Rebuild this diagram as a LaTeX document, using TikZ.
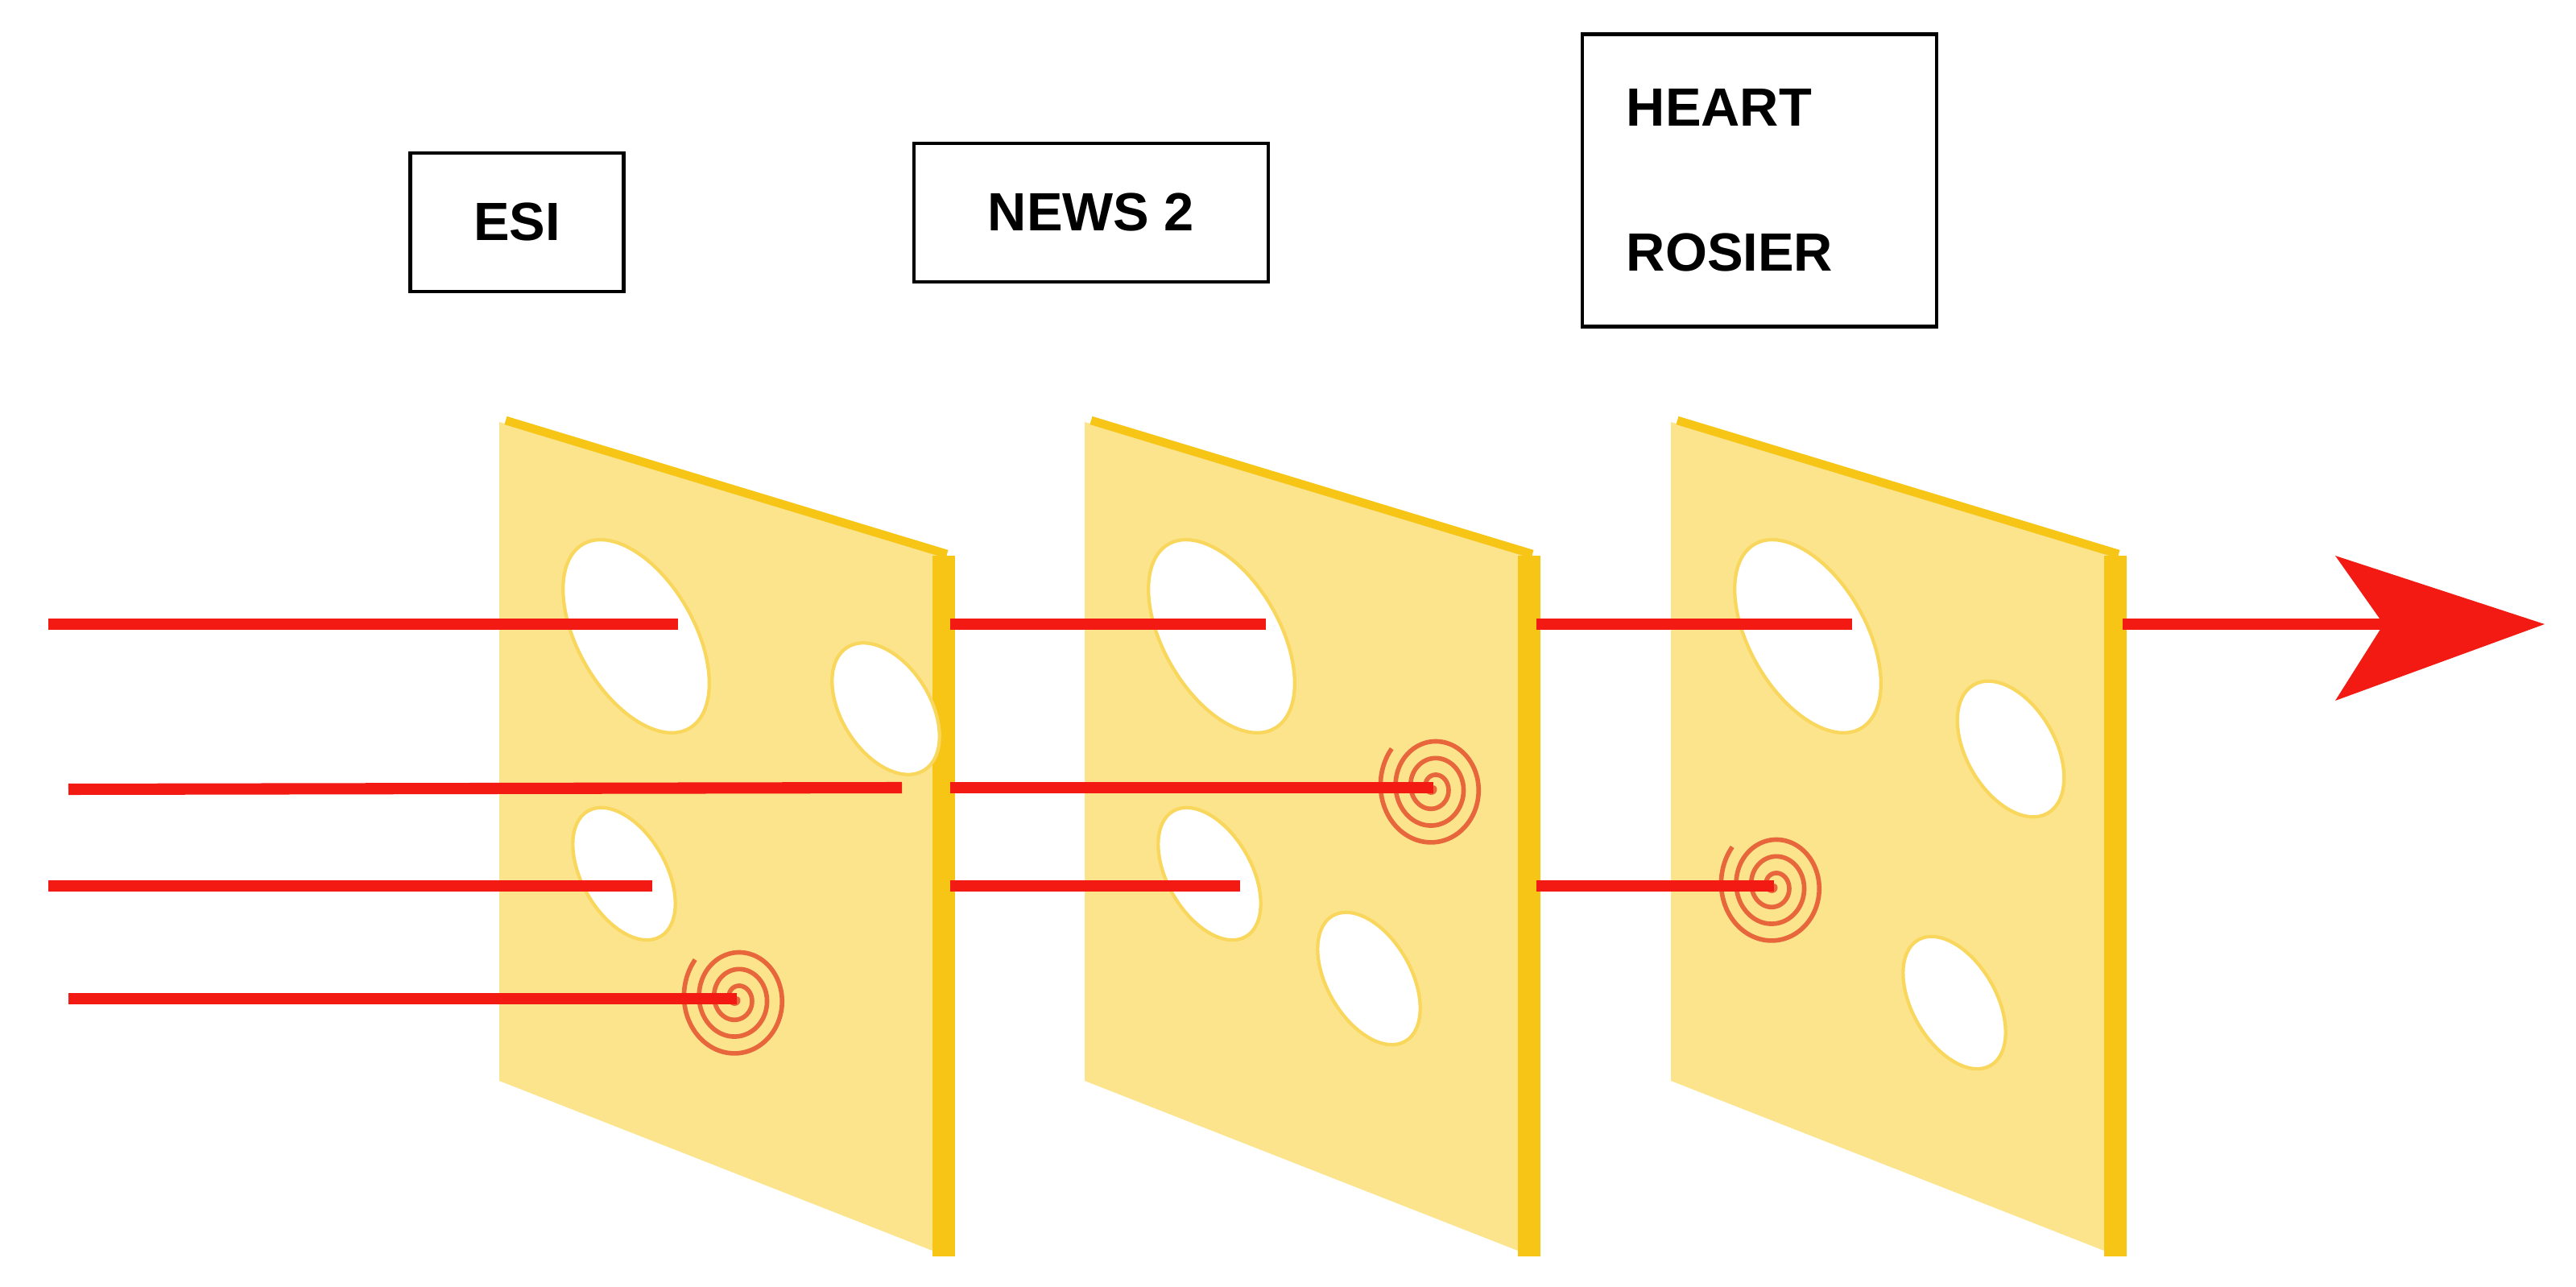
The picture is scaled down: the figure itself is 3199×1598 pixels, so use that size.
\documentclass[tikz,border=0pt]{standalone}
\usepackage{fontspec}
\setmainfont{Liberation Sans}
\begin{document}
\begin{tikzpicture}[x=0.01cm,y=-0.01cm,
  cheese/.style={fill=cheeseF},
  hole/.style={fill=white,draw=cheeseE!70,line width=1.2pt},
  ray/.style={draw=rayR,line width=4pt},
  lbl/.style={draw=black,line width=1.3pt,font=\fontsize{19}{30}\selectfont\bfseries,inner sep=0pt,align=left}]
\definecolor{cheeseF}{HTML}{FCE48C}
\definecolor{cheeseE}{HTML}{F6C516}
\definecolor{rayR}{HTML}{F21A12}
\definecolor{spir}{HTML}{E8663C}
\useasboundingbox (0,0) rectangle (3199,1598);
% labels
\node[lbl,minimum width=2.65cm,minimum height=1.72cm] (esi) at (642,276) {ESI};
\node[lbl,minimum width=4.4cm,minimum height=1.72cm] (news) at (1355,264) {NEWS 2};
\node[lbl,minimum width=4.4cm,minimum height=3.63cm,text width=3.3cm] (hr) at (2185,224) {HEART\\[0.75cm]ROSIER};
% slices
\foreach \dx/\n in {0/a,727/b,1455/c}{
  \begin{scope}[xshift=\dx*0.01cm]
  \fill[cheese] (620,524) -- (1176,688) -- (1176,1560) -- (620,1342) -- cycle;
  \draw[cheeseE,line width=3pt] (628,522) -- (1176,688);
  \draw[cheeseE,line width=8pt] (1172,690) -- (1172,1560);
  \end{scope}
}
% holes slice 1
\draw[hole,rotate around={30:(790,790)}] (790,790) ellipse [x radius=72,y radius=132];
\draw[hole,rotate around={32:(1100,880)}] (1100,880) ellipse [x radius=55,y radius=90];
\draw[hole,rotate around={30:(775,1085)}] (775,1085) ellipse [x radius=52,y radius=90];
% holes slice 2
\draw[hole,rotate around={30:(1517,790)}] (1517,790) ellipse [x radius=72,y radius=132];
\draw[hole,rotate around={30:(1502,1085)}] (1502,1085) ellipse [x radius=52,y radius=90];
\draw[hole,rotate around={30:(1700,1215)}] (1700,1215) ellipse [x radius=52,y radius=90];
% holes slice 3
\draw[hole,rotate around={30:(2245,790)}] (2245,790) ellipse [x radius=72,y radius=132];
\draw[hole,rotate around={30:(2497,930)}] (2497,930) ellipse [x radius=55,y radius=92];
\draw[hole,rotate around={30:(2427,1245)}] (2427,1245) ellipse [x radius=52,y radius=90];
% spirals
\foreach \cx/\cy/\nm in {915/1240/s1,1780/978/s2,2203/1100/s3}{
  \coordinate (\nm) at (\cx,\cy);
  \draw[spir,line width=1.6pt] plot[domain=0:1300,samples=220,smooth]
    ({\cx+0.052*\x*cos(\x)},{\cy+0.058*\x*sin(\x)});
}
% coordinates of ray ends
\coordinate (r1s) at (60,775);   \coordinate (r1e) at (842,775);
\coordinate (r1b) at (1180,775); \coordinate (r1f) at (1572,775);
\coordinate (r1c) at (1908,775); \coordinate (r1g) at (2300,775);
\coordinate (r1d) at (2636,775); \coordinate (tip) at (3160,775);
\coordinate (r2s) at (85,980);   \coordinate (r2e) at (1120,978);
\coordinate (r2b) at (1180,978);
\coordinate (r3s) at (60,1100);  \coordinate (r3e) at (810,1100);
\coordinate (r3b) at (1180,1100);\coordinate (r3f) at (1540,1100);
\coordinate (r3c) at (1908,1100);
\coordinate (r4s) at (85,1240);
\draw[ray] (r1s) -- (r1e);
\draw[ray] (r1b) -- (r1f);
\draw[ray] (r1c) -- (r1g);
\draw[ray] (r1d) -- (2960,775);
\fill[rayR] (tip) -- (2900,690) -- (2960,775) -- (2900,870) -- cycle;
\draw[ray] (r2s) -- (r2e);
\draw[ray] (r2b) -- (s2);
\draw[ray] (r3s) -- (r3e);
\draw[ray] (r3b) -- (r3f);
\draw[ray] (r3c) -- (s3);
\draw[ray] (r4s) -- (s1);
\end{tikzpicture}
\end{document}
